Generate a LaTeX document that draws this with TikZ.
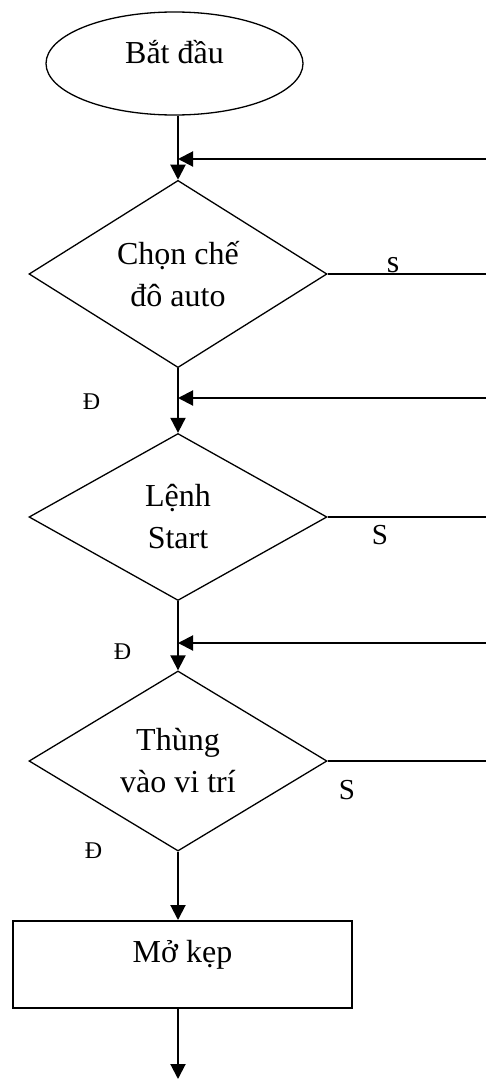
\documentclass[tikz,border=0pt]{standalone}
\usepackage{fontspec}
\setmainfont{Liberation Serif}
\usetikzlibrary{shapes.geometric,arrows.meta}
\begin{document}
\begin{tikzpicture}[x=1pt,y=-1pt,
  outline/.style={draw,line width=1.3pt},
  terminal/.style={outline,ellipse,minimum width=257pt,minimum height=103pt,inner sep=0pt,
    text height=20pt,text depth=20pt,font=\fontsize{32}{38}\selectfont},
  decision/.style={outline,diamond,minimum width=298pt,minimum height=167pt,inner sep=0pt,
    align=center,font=\fontsize{32}{42}\selectfont},
  process/.style={draw,line width=2pt,rectangle,minimum width=339pt,minimum height=87pt,inner sep=0pt,
    text height=20pt,text depth=25pt,font=\fontsize{32}{38}\selectfont},
  flow/.style={line width=2pt,-{Triangle[length=15pt,width=15pt]}},
  branch/.style={line width=1.3pt},
  notag/.style={inner sep=0pt,font=\fontsize{29}{34}\selectfont},
  yestag/.style={inner sep=0pt,font=\fontsize{24}{28}\selectfont}]
\useasboundingbox (0,0) rectangle (486,1079);

% blocks
\node[terminal] (start) at (174.5,63.5) {Bắt đầu};
\node[decision] (d1) at (178,274) {Chọn chế\\đô auto};
\node[decision] (d2) at (178,517) {Lệnh\\Start};
\node[decision] (d3) at (178,761) {Thùng\\vào vi trí};
\node[process] (act) at (182.5,964.5) {Mở kẹp};

% loose ends on the right margin and at the bottom
\coordinate (r1) at (486,159);
\coordinate (r2) at (486,398);
\coordinate (r3) at (486,643);
\coordinate (stop) at (178,1079);

% main flow
\draw[flow] (d1.north |- start.south) -- (d1.north);
\draw[flow] (d1.south) -- (d2.north);
\draw[flow] (d2.south) -- (d3.north);
\draw[flow] (d3.south) -- (d3.south |- act.north);
\draw[flow] (d3.south |- act.south) -- (stop);

% return arrows entering from the right
\draw[flow] (r1) -- (r1 -| d1.north);
\draw[flow] (r2) -- (r2 -| d1.north);
\draw[flow] (r3) -- (r3 -| d1.north);

% "no" branches leaving to the right
\draw[branch] (d1.east) -- (d1.east -| r1);
\draw[branch] (d2.east) -- (d2.east -| r2);
\draw[branch] (d3.east) -- (d3.east -| r3);

% branch labels
\node[inner sep=0pt,font=\fontsize{32}{38}\selectfont] (n1) at (393,265) {s};
\node[notag] (n2) at (380,535) {S};
\node[notag] (n3) at (347,790) {S};
\node[yestag] (y1) at (91.5,402) {Đ};
\node[yestag] (y2) at (122.5,652) {Đ};
\node[yestag] (y3) at (93.5,851) {Đ};
\end{tikzpicture}
\end{document}
